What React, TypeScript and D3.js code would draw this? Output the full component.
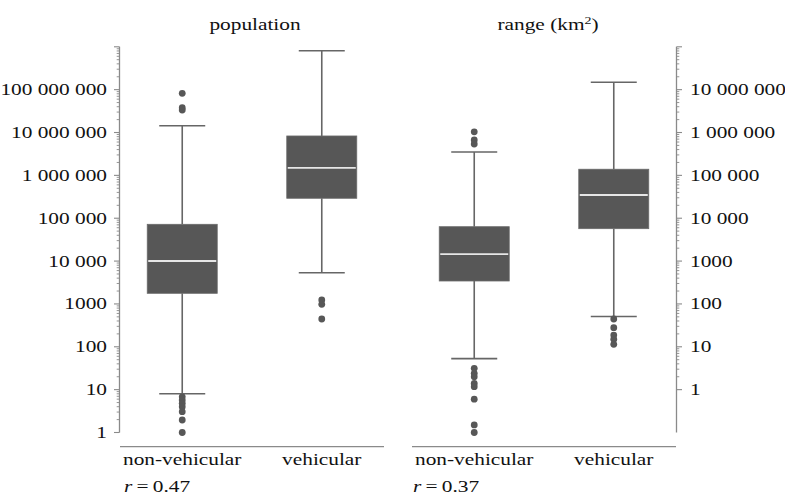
import React from "react";
import * as d3 from "d3";

const categories = ["non-vehicular", "vehicular"];
const panelTitles = ["population", "range"];
const correlations = ["0.47", "0.37"];

// [lower whisker, q1, median, q3, upper whisker]
const populationStats = [
  [8.0, 1770, 10040, 72100, 1.44e7],
  [5350, 2.92e5, 1.49e6, 8.3e6, 8.1e8],
];
const populationOutliers = [
  [8.2e7, 3.8e7, 3.35e7, 6.8, 5.7, 4.8, 4.0, 3.06, 1.96, 1.0],
  [1235, 980, 445],
];
const rangeStats = [
  [5.3, 343, 1460, 6340, 3.5e5],
  [51, 5700, 3.48e4, 1.39e5, 1.49e7],
];
const rangeOutliers = [
  [1.04e6, 6.7e5, 5.4e5, 3.15, 2.4, 2.0, 1.4, 1.17, 0.6, 0.15, 0.1],
  [44.5, 27.9, 18.8, 15, 11.4],
];

const populationTicks = [1, 10, 100, 1000, 1e4, 1e5, 1e6, 1e7, 1e8];
const populationTickLabels = ["1", "10", "100", "1000", "10 000", "100 000", "1 000 000", "10 000 000", "100 000 000"];
const rangeTicks = [1, 10, 100, 1000, 1e4, 1e5, 1e6, 1e7];
const rangeTickLabels = ["1", "10", "100", "1000", "10 000", "100 000", "1 000 000", "10 000 000"];

const FONT = "Liberation Serif, Times New Roman, Times, serif";
const FS = 16.8;
const SX = 1.27;
const TXT = "#111";
const AXIS = "#8a8a8a";
const BOX = "#575757";
const WHISK = "#666";

const Y_BOTTOM = 432.5;
const Y_TOP = 46.8;

function T({ x, y, anchor = "start", children, size = FS }: any) {
  return (
    <text
      transform={`translate(${x},${y}) scale(${SX},1)`}
      textAnchor={anchor}
      fontFamily={FONT}
      fontSize={size}
      fill={TXT}
    >
      {children}
    </text>
  );
}

function minorTicks(lo: number, hi: number) {
  const out: number[] = [];
  for (let d = lo; d < hi; d++) {
    for (let k = 2; k <= 9; k++) out.push(k * Math.pow(10, d));
  }
  return out;
}

function Panel({ x0, x1, yScale, stats, outliers }: any) {
  const xs = d3.scalePoint().domain(categories).range([x0, x1]).padding(0.446);
  const boxW = 70;
  const capW = 46;
  return (
    <g>
      <line x1={x0} x2={x1} y1={446.7} y2={446.7} stroke={AXIS} strokeWidth={1.3} />
      {categories.map((c, i) => {
        const cx = xs(c) as number;
        const [lo, q1, med, q3, hi] = stats[i];
        return (
          <g key={c}>
            <line x1={cx} x2={cx} y1={yScale(hi)} y2={yScale(q3)} stroke={WHISK} strokeWidth={1.6} />
            <line x1={cx} x2={cx} y1={yScale(q1)} y2={yScale(lo)} stroke={WHISK} strokeWidth={1.6} />
            <line x1={cx - capW / 2} x2={cx + capW / 2} y1={yScale(hi)} y2={yScale(hi)} stroke={WHISK} strokeWidth={1.6} />
            <line x1={cx - capW / 2} x2={cx + capW / 2} y1={yScale(lo)} y2={yScale(lo)} stroke={WHISK} strokeWidth={1.6} />
            <rect
              x={cx - boxW / 2}
              y={yScale(q3)}
              width={boxW}
              height={yScale(q1) - yScale(q3)}
              fill={BOX}
              stroke="#6a6a6a"
              strokeWidth={0.8}
            />
            <line x1={cx - boxW / 2 + 1} x2={cx + boxW / 2 - 1} y1={yScale(med)} y2={yScale(med)} stroke="#e6e6e6" strokeWidth={1.8} />
            {outliers[i].map((v: number, j: number) => (
              <circle key={j} cx={cx} cy={yScale(v)} r={3.4} fill={BOX} />
            ))}
            <T x={cx} y={465} anchor="middle">{c}</T>
          </g>
        );
      })}
    </g>
  );
}

export default function App() {
  const yPop = d3.scaleLog().domain([1, 1e9]).range([Y_BOTTOM, Y_TOP]);
  const yRange = d3.scaleLog().domain([0.1, 1e8]).range([Y_BOTTOM, Y_TOP]);
  const leftX = 119.5;
  const rightX = 676.5;

  return (
    <svg width={785} height={502} style={{ position: "absolute", left: 0, top: 0 }}>
      <rect width={785} height={502} fill="#fff" />
      {/* left axis */}
      <line x1={leftX} x2={leftX} y1={yPop(1e9)} y2={yPop(1)} stroke={AXIS} strokeWidth={1.3} />
      {minorTicks(0, 9).map((v, i) => (
        <line key={i} x1={leftX - 2.8} x2={leftX} y1={yPop(v)} y2={yPop(v)} stroke={AXIS} strokeWidth={0.9} />
      ))}
      {[...populationTicks, 1e9].map((v, i) => (
        <line key={i} x1={leftX - 5.5} x2={leftX} y1={yPop(v)} y2={yPop(v)} stroke={AXIS} strokeWidth={1.1} />
      ))}
      {populationTicks.map((v, i) => (
        <T key={i} x={107} y={yPop(v) + 5.5} anchor="end">{populationTickLabels[i]}</T>
      ))}

      {/* right axis */}
      <line x1={rightX} x2={rightX} y1={yRange(1e8)} y2={yRange(0.1)} stroke={AXIS} strokeWidth={1.3} />
      {minorTicks(0, 8).map((v, i) => (
        <line key={i} x1={rightX} x2={rightX + 2.8} y1={yRange(v)} y2={yRange(v)} stroke={AXIS} strokeWidth={0.9} />
      ))}
      {[...rangeTicks, 1e8].map((v, i) => (
        <line key={i} x1={rightX} x2={rightX + 5.5} y1={yRange(v)} y2={yRange(v)} stroke={AXIS} strokeWidth={1.1} />
      ))}
      {rangeTicks.map((v, i) => (
        <T key={i} x={690} y={yRange(v) + 5.5} anchor="start">{rangeTickLabels[i]}</T>
      ))}

      <Panel x0={120} x1={384} yScale={yPop} stats={populationStats} outliers={populationOutliers} />
      <Panel x0={412} x1={676} yScale={yRange} stats={rangeStats} outliers={rangeOutliers} />

      {/* titles */}
      <T x={255} y={30} anchor="middle">{panelTitles[0]}</T>
      <text
        transform={`translate(548,30) scale(${SX},1)`}
        textAnchor="middle"
        fontFamily={FONT}
        fontSize={FS}
        fill={TXT}
      >
        {panelTitles[1]} (km<tspan fontSize={11} dy={-6.5}>2</tspan><tspan dy={6.5}>)</tspan>
      </text>

      {/* correlations */}
      {[124, 413].map((x, i) => (
        <text
          key={i}
          transform={`translate(${x},491.7) scale(${SX},1)`}
          fontFamily={FONT}
          fontSize={FS}
          fill={TXT}
        >
          <tspan fontStyle="italic">r</tspan>
          <tspan>{"\u2009=\u2009" + correlations[i]}</tspan>
        </text>
      ))}
    </svg>
  );
}
